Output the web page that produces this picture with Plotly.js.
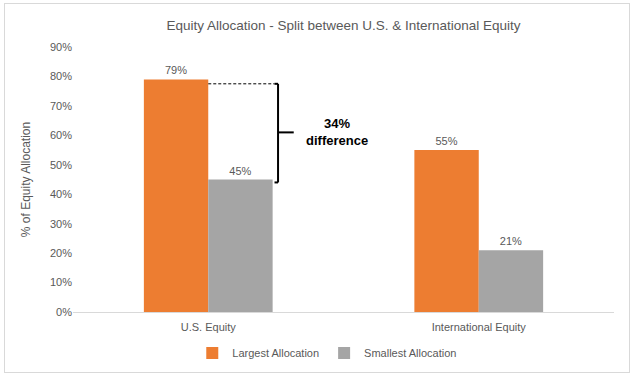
<!DOCTYPE html>
<html>
<head>
<meta charset="utf-8">
<script src="https://cdn.plot.ly/plotly-3.0.1.min.js"></script>
<style>
html,body{margin:0;padding:0;background:#fff;}
#chart{position:absolute;left:0;top:0;width:636px;height:378px;}
#frame{position:absolute;left:4px;top:3px;width:624px;height:368px;border:1px solid #d9d9d9;pointer-events:none;}
</style>
</head>
<body>
<div id="chart"></div>
<div id="frame"></div>
<script>
const categories = ["U.S. Equity", "International Equity"];
const largest = [79, 55];
const smallest = [45, 21];
const seriesNames = ["Largest Allocation", "Smallest Allocation"];
const yTicks = [0, 10, 20, 30, 40, 50, 60, 70, 80, 90];
const diffTop = 77.5, diffBottom = 44, diffMid = 61;
const diffLabel = "<b>34%<br>difference</b>";

const font = {family: "Liberation Sans, Arial, sans-serif", color: "#595959", size: 11};

const traces = [
  {type: "bar", name: seriesNames[0], x: [0, 1], y: largest, marker: {color: "#ED7D31"},
   text: largest.map(v => v + "%"), textposition: "outside", cliponaxis: false,
   textfont: {family: font.family, size: 11, color: "#595959"}, hoverinfo: "none"},
  {type: "bar", name: seriesNames[1], x: [0, 1], y: smallest, marker: {color: "#A5A5A5"},
   text: smallest.map(v => v + "%"), textposition: "outside", cliponaxis: false,
   textfont: {family: font.family, size: 11, color: "#595959"}, hoverinfo: "none"}
];

const bx = 0.258, hook = 0.245, tick = 0.316;
const layout = {
  width: 636, height: 378,
  margin: {l: 72.5, r: 21.5, t: 47, b: 66, autoexpand: false},
  paper_bgcolor: "rgba(0,0,0,0)", plot_bgcolor: "#fff",
  barmode: "group", bargap: 0.524, bargroupgap: 0,
  font: font,
  showlegend: true,
  title: {text: "Equity Allocation - Split between U.S. & International Equity",
          font: {family: font.family, size: 13.5, color: "#595959"}, x: 0.5, xref: "paper", y: 0.945, yref: "container"},
  xaxis: {type: "linear", range: [-0.5, 1.5], tickvals: [0, 1], ticktext: categories,
          showgrid: false, zeroline: false, showline: true, linecolor: "#d9d9d9", linewidth: 1,
          ticks: "", ticklen: 0, ticklabelstandoff: 5, tickfont: {size: 11, color: "#595959"}, fixedrange: true},
  yaxis: {range: [0, 90], tickvals: yTicks, ticktext: yTicks.map(v => v + "%"),
          showgrid: false, zeroline: false, showline: false, ticks: "",
          tickfont: {size: 11, color: "#595959"},
          title: {text: "% of Equity Allocation", font: {size: 12, color: "#595959"}, standoff: 16},
          fixedrange: true},
  legend: {orientation: "h", x: 0.47, xanchor: "center", y: -0.1, yanchor: "top",
           font: {size: 11, color: "#595959"}, itemwidth: 30, traceorder: "normal"},
  shapes: [
    {type: "line", xref: "x", yref: "y", x0: 0.0, x1: hook, y0: diffTop, y1: diffTop,
     line: {color: "#000", width: 1, dash: "3px,2px"}},
    {type: "line", xref: "x", yref: "y", x0: hook, x1: bx, y0: diffTop, y1: diffTop, line: {color: "#000", width: 2}},
    {type: "line", xref: "x", yref: "y", x0: bx, x1: bx, y0: diffTop, y1: diffBottom, line: {color: "#000", width: 2}},
    {type: "line", xref: "x", yref: "y", x0: hook, x1: bx, y0: diffBottom, y1: diffBottom, line: {color: "#000", width: 2}},
    {type: "line", xref: "x", yref: "y", x0: bx, x1: tick, y0: diffMid, y1: diffMid, line: {color: "#000", width: 2}}
  ],
  annotations: [
    {xref: "x", yref: "y", x: 0.475, y: diffMid, text: diffLabel, showarrow: false,
     font: {family: font.family, size: 13, color: "#000"}, align: "center"}
  ]
};

Plotly.newPlot("chart", traces, layout, {displayModeBar: false, staticPlot: true});
</script>
</body>
</html>
